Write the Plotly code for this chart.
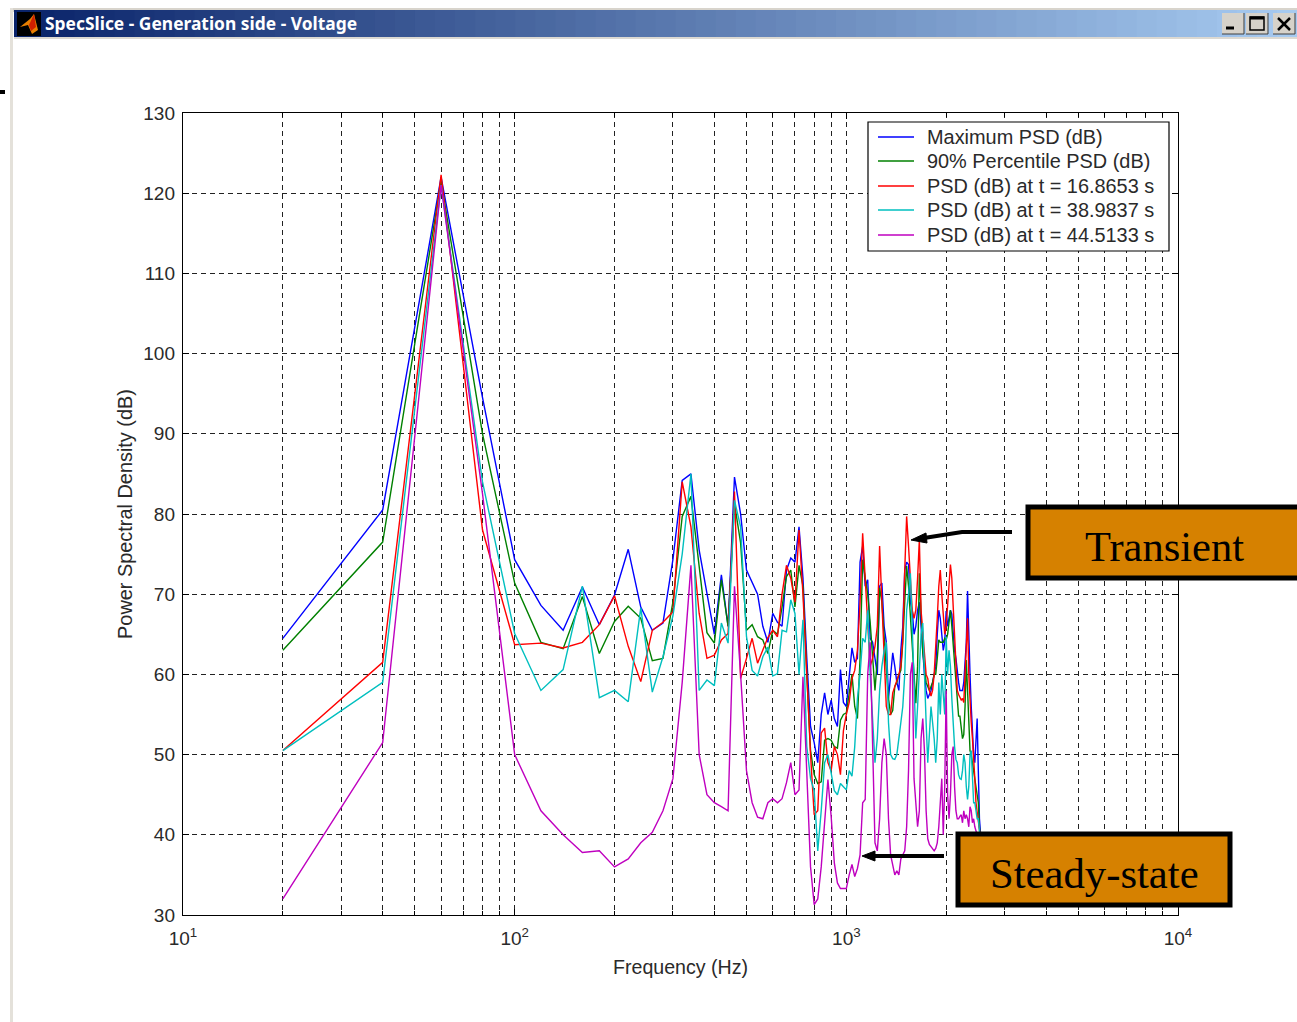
import plotly.graph_objects as go

freq_hz = [
    20, 40, 60, 80, 100, 120, 140, 160, 180, 200,
    220, 240, 260, 280, 300, 320, 340, 360, 380, 400,
    420, 440, 460, 480, 500, 520, 540, 560, 580, 600,
    620, 640, 660, 680, 700, 720, 740, 760, 780, 800,
    820, 840, 860, 880, 900, 920, 940, 960, 980, 1000,
    1020, 1040, 1060, 1080, 1100, 1120, 1140, 1160, 1180, 1200,
    1220, 1240, 1260, 1280, 1300, 1320, 1340, 1360, 1380, 1400,
    1420, 1440, 1460, 1480, 1500, 1520, 1540, 1560, 1580, 1600,
    1620, 1640, 1660, 1680, 1700, 1720, 1740, 1760, 1780, 1800,
    1820, 1840, 1860, 1880, 1900, 1920, 1940, 1960, 1980, 2000,
    2020, 2040, 2060, 2080, 2100, 2120, 2140, 2160, 2180, 2200,
    2220, 2240, 2260, 2280, 2300, 2320, 2340, 2360, 2380, 2400,
    2420, 2440, 2460, 2480, 2500, 2520, 2540,
]
max_psd = [
    64.5, 80.5, 122, 94.5, 74.3, 68.6, 65.5, 70.9, 66.2, 69.9,
    75.6, 68.4, 65.5, 66.4, 74.3, 84.2, 85, 75.5, 70.1, 65,
    72.4, 66, 84.6, 80, 73, 71.5, 70, 66, 64, 67.6,
    66.5, 66, 73, 74.5, 74, 78.4, 72, 62, 53.5, 51.5,
    49, 55, 57.7, 55, 56.8, 54.5, 53.5, 60.6, 56.5, 56,
    60, 63.3, 61.5, 62, 74, 76, 71, 71.8, 64.5, 64,
    62, 60, 71, 71.4, 66, 64, 57, 60, 62.7, 61,
    59, 58, 63, 66, 73, 74, 73.7, 69, 68, 65,
    66, 68, 69, 66, 62.7, 60, 58, 57, 57.5, 58,
    59, 60, 61, 65, 68, 67, 65, 63, 64, 67.9,
    66, 67, 68, 67.5, 65, 63, 62, 60, 59, 58,
    58, 58, 59, 62, 64, 70.4, 64, 60, 56, 52,
    50, 49, 52, 54.5, 48, 42, 40,
]
p90_psd = [
    63, 76.5, 121.5, 90, 71.4, 64, 63.2, 69.7, 62.6, 66.6,
    68.5, 67, 61.7, 62, 69, 79.7, 82.2, 73.8, 65.2, 63.9,
    71.8, 66, 81.3, 76.4, 65.5, 66.2, 64.7, 64.3, 62.6, 65.5,
    65, 68.4, 72.2, 73, 68.4, 73.6, 71, 60, 50.5, 47.5,
    46.4, 46.6, 51.8, 52, 51.8, 51, 50.8, 54.3, 55, 55.2,
    58, 60, 56, 54.5, 62, 74.3, 72, 70, 66.5, 62,
    58, 62, 70.8, 69, 64, 60.6, 57, 55, 55.5, 58.5,
    59, 60, 60.5, 64, 69, 73.5, 71, 67.7, 64, 60,
    56.4, 61, 72.6, 68, 62.7, 61, 59, 58.5, 58, 58.5,
    59, 60, 60, 62, 64.3, 64, 64, 64, 64.5, 64.3,
    65, 67, 68, 66, 63.5, 61.8, 59, 56, 54.8, 54.8,
    53, 52, 52.5, 56, 61.8, 58, 53, 50.5, 50, 49,
    48, 47, 46, 45, 44, 41, 39.5,
]
psd_t1 = [
    50.5, 61.5, 122.3, 78, 63.7, 63.9, 63.3, 64, 66.2, 69.8,
    63.5, 59.1, 65.5, 66.5, 67.8, 84, 78.4, 67.6, 62, 62.4,
    64.3, 65.1, 82.8, 59.5, 62, 64.5, 61.4, 63, 64.6, 65.5,
    64.7, 70, 73.6, 72, 69, 78, 70, 60, 50, 42.5,
    43, 52.7, 53.3, 49, 48, 51, 50, 47.5, 53, 55,
    56.5, 59.5, 60.5, 63, 69, 77.6, 72, 65, 61, 62,
    63.5, 66, 76, 69, 62, 56, 55, 55, 57.7, 58.5,
    59, 60, 61, 64.5, 73, 79.7, 76, 71, 68, 67,
    68, 72, 76.8, 68, 65, 62, 60, 59.5, 58, 57.3,
    58, 60, 63, 67, 71, 73, 70, 67, 65, 66,
    69, 72, 73.7, 72, 68, 65, 61, 58, 57.5, 57,
    56.8, 57, 56.5, 60, 65, 67, 60, 56.5, 54, 52,
    50, 47, 44, 43, 42, 40.5, 39.5,
]
psd_t2 = [
    50.5, 59, 121, 84, 65.1, 58, 60.6, 71, 57.1, 58,
    56.6, 68.3, 57.8, 62.2, 67.3, 75, 85, 58, 59.3, 58.6,
    66.4, 63.9, 81.7, 78.4, 64.7, 60.5, 59.8, 62.2, 63.4, 59.8,
    60.1, 65.5, 65.3, 69.3, 67.6, 60, 66.8, 51, 47, 45.5,
    38, 43, 49, 50, 47.7, 45.5, 45, 46.4, 46, 45.6,
    48, 47.3, 51, 57, 60, 64.5, 64, 68, 60, 54,
    49, 52, 58, 61, 63, 64, 54, 50, 49.5, 49.4,
    50, 52, 54, 56, 60, 68, 70, 72.6, 66, 58,
    52, 56, 60, 65, 66.4, 59, 54, 49, 52, 56,
    54, 52, 49, 52, 59, 55, 60, 58, 55, 64.7,
    60, 63, 61, 57, 53, 51, 49.4, 49, 47.5, 47,
    46.9, 48, 50, 49, 46, 44.4, 46, 50, 50.5, 47,
    44, 44, 43, 42, 42, 40, 39,
]
psd_t3 = [
    32, 51.5, 121, 82.5, 50, 43, 40, 37.8, 38, 36,
    37, 39, 40.3, 43, 47, 59, 73.6, 50, 45, 44,
    43.5, 43, 71, 60, 48, 44, 42.2, 42, 44, 44.5,
    44, 44.5, 46.5, 49, 45, 45.6, 59.7, 48, 36, 31.3,
    32, 36, 41.5, 46.9, 42.3, 36.5, 34, 33.3, 33.3, 33.3,
    35, 36.3, 34.8, 35.8, 37.5, 44, 44.4, 60, 64, 52,
    39, 38, 42, 49, 52, 50, 42, 37.5, 36, 35,
    35.5, 35, 37, 37.5, 38, 41, 48, 60, 61.5, 47,
    44, 41, 43, 52, 54.5, 50.5, 43, 39.5, 38.8, 38.5,
    38.2, 38, 38.3, 39, 41, 45, 47, 40, 46, 58,
    45, 42, 45, 50, 51, 46, 43, 42, 42, 42.3,
    42.5, 41.5, 43, 42, 42.5, 42, 41, 43.5, 43, 41.5,
    42, 41, 40.5, 40, 39.5, 39, 38.5,
]
series_names = [
    "Maximum PSD (dB)", "90% Percentile PSD (dB)", "PSD (dB) at t = 16.8653 s",
    "PSD (dB) at t = 38.9837 s", "PSD (dB) at t = 44.5133 s",
]
series_colors = ["#0000ff", "#008000", "#ff0000", "#00bfbf", "#bf00bf"]
series_values = [max_psd, p90_psd, psd_t1, psd_t2, psd_t3]
y_ticks = [30, 40, 50, 60, 70, 80, 90, 100, 110, 120, 130]
x_major = [10, 100, 1000, 10000]
x_major_labels = ["10<sup>1</sup>", "10<sup>2</sup>", "10<sup>3</sup>", "10<sup>4</sup>"]
x_minor = [m * d for d in (10, 100, 1000) for m in range(2, 10)]

for v in series_values:
    assert len(v) == len(freq_hz), len(v)

PL, PR, PT, PB = 183, 1178, 113, 915
def px(x): return (x - PL) / (PR - PL)
def py(y): return (PB - y) / (PB - PT)

FONT = "Liberation Sans"
TEXT = "#2a2a2a"
fig = go.Figure()
for name, color, vals in zip(series_names, series_colors, series_values):
    fig.add_trace(go.Scatter(x=freq_hz, y=vals, name=name, mode="lines", showlegend=False,
                             line=dict(color=color, width=1.4)))

shapes = []
def rect(x0, y0, x1, y1, fill, line=None, lw=0):
    shapes.append(dict(type="rect", xref="paper", yref="paper", x0=px(x0), x1=px(x1), y0=py(y0), y1=py(y1),
                       fillcolor=fill, line=dict(color=line or fill, width=lw), layer="above"))
def path(points, color, lw, fill=None):
    d = "M " + " L ".join(f"{px(a):.5f},{py(b):.5f}" for a, b in points)
    if fill:
        d += " Z"
    shapes.append(dict(type="path", xref="paper", yref="paper", path=d, fillcolor=fill,
                       line=dict(color=color, width=lw), layer="above"))

# window chrome
rect(10, 8, 1297, 12, "#d8d4cc")
rect(10, 8, 13, 1022, "#e4e1da")
rect(0, 90, 5, 94, "#000000")
c0, c1 = (10, 36, 106), (166, 202, 240)
N = 64
for i in range(N):
    t = i / (N - 1)
    col = "rgb(%d,%d,%d)" % tuple(round(a + (b - a) * t) for a, b in zip(c0, c1))
    rect(14 + (1297 - 14) * i / N, 10, 14 + (1297 - 14) * (i + 1) / N + 1, 37, col)
rect(14, 37, 1297, 39, "#dcd9d2")
# icon
rect(17, 12, 41, 36, "#000000")
path([(20, 27), (30, 19), (34, 14), (38, 30), (32, 34), (28, 25)], "#f0a000", 0, "#e88000")
path([(29, 25), (34, 14), (36, 27), (31, 31)], "#d02000", 0, "#d02000")
# buttons
for x0, x1 in ((1222, 1244), (1246, 1268), (1273, 1295)):
    rect(x0, 13, x1, 34, "#d6d2ca", "#ffffff", 0)
    path([(x0, 34), (x1, 34), (x1, 13)], "#404040", 1)
path([(1226, 28), (1234, 28)], "#000000", 3)
rect(1250, 17, 1264, 30, "rgba(0,0,0,0)", "#000000", 1.5)
path([(1250, 18), (1264, 18)], "#000000", 3)
path([(1278, 18), (1290, 30)], "#000000", 2.5)
path([(1290, 18), (1278, 30)], "#000000", 2.5)
# callouts
ORANGE = "#d68100"
rect(1028, 507, 1300, 578, ORANGE, "#000000", 5)
rect(958, 834, 1230, 905, ORANGE, "#000000", 5)
path([(1012, 532), (962, 532), (924, 538)], "#000000", 4)
path([(911, 540), (926, 533), (927, 543)], "#000000", 1, "#000000")
path([(944, 856), (872, 856)], "#000000", 4)
path([(862, 856), (875, 851), (875, 861)], "#000000", 1, "#000000")
# legend box
rect(868, 122, 1169, 251, "#ffffff", "#000000", 1.2)
legend_rows = [137, 161, 186, 210, 235]

def txt(x, y, s, size, family, color="#000000", anchor="center", bold=False):
    return dict(xref="paper", yref="paper", x=px(x), y=py(y), text=f"<b>{s}</b>" if bold else s, showarrow=False,
                xanchor=anchor, yanchor="middle", font=dict(size=size, family=family, color=color))

annotations = [
    txt(43, 23, "SpecSlice - Generation side - Voltage", 17.4, "Noto Sans", "#ffffff", "left", True),
    txt(1164, 546, "Transient", 42.5, "Liberation Serif"),
    txt(1094, 873, "Steady-state", 42.7, "Liberation Serif"),
]
for yy, name, color in zip(legend_rows, series_names, series_colors):
    path([(878, yy), (914, yy)], color, 1.4)
    annotations.append(txt(925, yy, name, 19.9, FONT, TEXT, "left"))

grid = dict(showgrid=True, gridcolor="#222222", griddash="5px,4px", gridwidth=1.4)
fig.update_layout(
    width=1297, height=1022, autosize=False,
    margin=dict(l=PL, r=1297 - PR, t=PT, b=1022 - PB, pad=0),
    paper_bgcolor="#ffffff", plot_bgcolor="#ffffff",
    font=dict(family=FONT, size=19, color=TEXT),
    shapes=shapes, annotations=annotations, showlegend=False,
    xaxis=dict(type="log", range=[1, 4], tickmode="array", tickvals=x_major, ticktext=x_major_labels,
               ticks="inside", ticklen=6, tickcolor="#000000", showline=True, linecolor="#000000",
               linewidth=1.4, mirror="ticks", zeroline=False,
               title=dict(text="Frequency (Hz)", standoff=12, font=dict(size=19.6)),
               tickfont=dict(size=19), ticklabelstandoff=6,
               minor=dict(tickmode="array", tickvals=x_minor, ticks="inside", ticklen=4, tickcolor="#000000", **grid),
               **grid),
    yaxis=dict(range=[30, 130], tickmode="array", tickvals=y_ticks,
               ticks="inside", ticklen=6, tickcolor="#000000", showline=True, linecolor="#000000", linewidth=1.4,
               mirror="ticks", zeroline=False, ticklabelstandoff=3,
               title=dict(text="Power Spectral Density (dB)", standoff=5, font=dict(size=19.9)),
               tickfont=dict(size=19), **grid),
)
fig.write_html("out.html", config=dict(displayModeBar=False),
               post_script="document.body.style.margin='0';document.body.style.overflow='hidden';")
